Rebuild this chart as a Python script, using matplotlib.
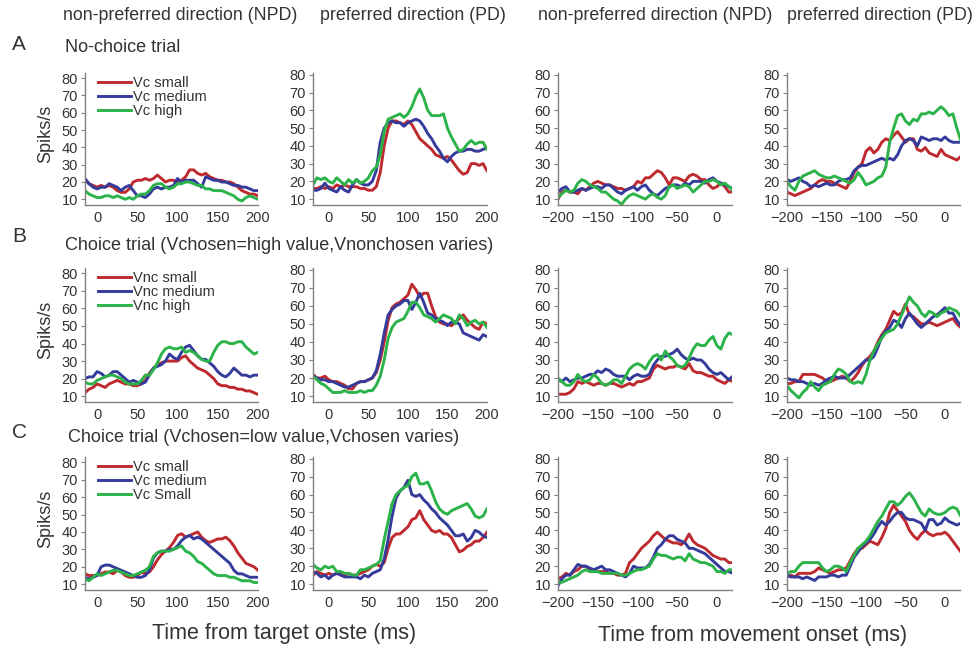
import numpy as np
import matplotlib
matplotlib.use("Agg")
import matplotlib.pyplot as plt

plt.rcParams["font.family"] = ["Liberation Sans", "DejaVu Sans"]

# time bins (ms): aligned to target onset / to movement onset
t_target = np.arange(-20, 201, 5)
t_move = np.arange(-200, 21, 5)

# ---- A: no-choice trial ----
a_npd_tgt_small = [21, 21, 19, 18, 17, 18, 17, 18, 17, 15, 14, 14, 16, 20, 21, 21, 22, 21, 22, 24, 22, 20, 21, 21, 20, 21, 23, 27, 27, 25, 24, 25, 23, 22, 21, 21, 20, 20, 19, 17, 15, 14, 13, 13, 12]
a_npd_tgt_medium = [22, 22, 19, 17, 16, 17, 17, 19, 18, 17, 15, 17, 18, 15, 12, 12, 11, 13, 16, 17, 16, 17, 17, 18, 22, 20, 21, 21, 21, 19, 17, 23, 22, 21, 21, 20, 20, 19, 18, 18, 17, 17, 16, 15, 15]
a_npd_tgt_high = [15, 15, 13, 12, 11, 11, 12, 12, 11, 12, 11, 10, 11, 10, 12, 13, 13, 15, 18, 19, 19, 17, 16, 17, 19, 19, 20, 20, 19, 18, 18, 16, 16, 15, 15, 15, 14, 13, 12, 10, 9, 11, 12, 11, 10]

a_pd_tgt_small = [16, 16, 17, 16, 17, 16, 18, 17, 18, 17, 17, 17, 16, 16, 15, 15, 17, 25, 40, 50, 54, 54, 53, 52, 54, 52, 48, 44, 42, 40, 38, 35, 34, 33, 34, 32, 29, 26, 24, 25, 30, 30, 29, 30, 26]
a_pd_tgt_medium = [15, 15, 16, 19, 16, 15, 14, 17, 15, 14, 18, 21, 19, 18, 18, 20, 26, 42, 50, 53, 54, 53, 53, 51, 53, 54, 55, 54, 51, 47, 44, 40, 37, 33, 31, 34, 36, 37, 37, 38, 38, 37, 37, 38, 39]
a_pd_tgt_high = [18, 22, 21, 22, 20, 19, 22, 20, 18, 21, 19, 21, 19, 20, 22, 26, 28, 35, 48, 55, 56, 57, 58, 56, 58, 62, 68, 72, 67, 60, 57, 57, 57, 58, 50, 45, 41, 37, 38, 41, 43, 41, 42, 42, 38]

a_npd_mov_small = [10, 14, 15, 14, 14, 13, 16, 15, 17, 19, 20, 19, 18, 18, 17, 16, 16, 15, 16, 17, 20, 19, 22, 22, 24, 26, 25, 22, 18, 22, 22, 21, 20, 23, 24, 23, 21, 21, 18, 16, 17, 19, 17, 14, 14]
a_npd_mov_medium = [14, 16, 17, 14, 14, 15, 16, 15, 16, 17, 17, 16, 18, 18, 16, 14, 13, 15, 16, 17, 15, 17, 18, 15, 13, 12, 14, 16, 17, 18, 18, 17, 19, 18, 20, 20, 20, 19, 21, 22, 20, 19, 18, 17, 16]
a_npd_mov_high = [11, 13, 15, 14, 15, 19, 21, 20, 18, 17, 16, 14, 14, 12, 10, 9, 7, 10, 12, 13, 12, 11, 10, 12, 13, 11, 10, 12, 17, 18, 16, 17, 18, 17, 14, 16, 18, 20, 20, 21, 20, 18, 19, 17, 15]

a_pd_mov_small = [14, 13, 12, 13, 14, 15, 16, 18, 20, 21, 20, 20, 19, 18, 17, 16, 20, 25, 28, 30, 37, 39, 36, 38, 42, 44, 43, 46, 48, 45, 42, 44, 44, 38, 37, 39, 36, 35, 34, 38, 35, 34, 33, 32, 34]
a_pd_mov_medium = [21, 20, 21, 22, 20, 19, 17, 18, 17, 18, 19, 18, 18, 20, 21, 21, 22, 26, 28, 29, 29, 30, 31, 32, 33, 32, 33, 32, 35, 40, 43, 44, 43, 40, 45, 44, 43, 44, 44, 43, 45, 43, 42, 42, 42]
a_pd_mov_high = [20, 17, 15, 20, 23, 24, 25, 26, 24, 23, 22, 22, 23, 22, 21, 20, 19, 21, 25, 22, 18, 19, 20, 22, 23, 28, 42, 50, 57, 58, 54, 52, 55, 54, 58, 58, 59, 58, 60, 62, 60, 57, 58, 50, 43]

# ---- B: choice trial, Vchosen = high value ----
b_npd_tgt_small = [12, 12, 14, 15, 17, 16, 15, 17, 18, 19, 18, 17, 17, 16, 16, 17, 19, 23, 26, 28, 29, 30, 30, 30, 30, 32, 33, 30, 28, 26, 25, 24, 22, 20, 17, 16, 16, 15, 15, 14, 14, 13, 13, 12, 11]
b_npd_tgt_medium = [20, 20, 21, 21, 24, 23, 21, 22, 24, 24, 22, 20, 18, 19, 18, 17, 18, 22, 26, 27, 28, 30, 34, 32, 31, 35, 38, 39, 36, 33, 31, 31, 29, 27, 24, 22, 21, 23, 26, 24, 22, 22, 21, 22, 22]
b_npd_tgt_high = [18, 18, 17, 17, 19, 20, 21, 22, 22, 21, 20, 18, 17, 17, 17, 19, 22, 22, 25, 29, 34, 37, 38, 37, 37, 38, 35, 36, 35, 33, 31, 30, 30, 35, 39, 41, 41, 40, 40, 41, 41, 38, 36, 34, 35]

b_pd_tgt_small = [22, 20, 20, 21, 19, 18, 18, 17, 16, 14, 14, 17, 18, 18, 19, 20, 23, 30, 40, 52, 59, 61, 62, 64, 66, 72, 69, 65, 67, 67, 60, 54, 51, 50, 50, 49, 51, 53, 55, 52, 50, 48, 47, 51, 50]
b_pd_tgt_medium = [21, 20, 19, 19, 18, 18, 17, 16, 15, 15, 16, 17, 18, 18, 19, 20, 24, 33, 45, 55, 58, 60, 61, 63, 63, 58, 62, 67, 62, 56, 55, 53, 52, 51, 49, 51, 51, 50, 45, 44, 43, 42, 41, 44, 43]
b_pd_tgt_high = [21, 19, 17, 16, 14, 12, 12, 12, 13, 12, 12, 12, 13, 12, 13, 13, 16, 21, 30, 42, 48, 51, 52, 53, 57, 62, 62, 59, 55, 54, 53, 51, 53, 55, 54, 53, 50, 55, 53, 49, 51, 52, 50, 51, 48]

b_npd_mov_small = [11, 11, 11, 12, 14, 18, 17, 18, 17, 16, 17, 17, 16, 17, 17, 16, 15, 16, 17, 16, 18, 18, 19, 20, 25, 27, 26, 25, 26, 26, 27, 26, 25, 28, 24, 23, 23, 22, 21, 21, 19, 18, 17, 19, 18]
b_npd_mov_medium = [19, 18, 20, 18, 19, 20, 20, 21, 22, 22, 24, 23, 25, 24, 22, 21, 21, 21, 19, 21, 22, 21, 21, 22, 27, 30, 32, 32, 33, 34, 36, 33, 31, 30, 31, 30, 30, 28, 25, 23, 22, 23, 21, 19, 21]
b_npd_mov_high = [20, 18, 16, 16, 18, 22, 19, 18, 19, 22, 20, 17, 16, 17, 19, 19, 17, 21, 25, 27, 28, 27, 25, 29, 32, 33, 30, 35, 32, 30, 27, 26, 27, 31, 36, 39, 38, 38, 41, 43, 38, 36, 42, 45, 44]

b_pd_mov_small = [17, 17, 18, 18, 22, 22, 22, 22, 21, 20, 18, 18, 19, 20, 21, 20, 18, 20, 23, 27, 30, 32, 35, 40, 44, 47, 52, 57, 55, 56, 61, 55, 54, 52, 50, 50, 51, 50, 49, 50, 51, 52, 53, 50, 48]
b_pd_mov_medium = [20, 19, 19, 18, 18, 17, 16, 17, 16, 17, 19, 20, 21, 20, 20, 20, 22, 24, 26, 28, 30, 30, 32, 37, 43, 46, 48, 52, 51, 48, 53, 56, 53, 50, 48, 50, 52, 54, 55, 57, 59, 56, 56, 52, 49]
b_pd_mov_high = [16, 13, 11, 9, 12, 14, 18, 15, 13, 16, 17, 18, 22, 25, 24, 22, 18, 17, 18, 17, 22, 30, 35, 39, 42, 45, 46, 47, 50, 55, 60, 65, 62, 60, 56, 54, 57, 56, 54, 56, 57, 59, 58, 57, 54]

# ---- C: choice trial, Vchosen = low value ----
c_npd_tgt_small = [16, 16, 15, 15, 15, 16, 17, 17, 16, 18, 17, 15, 14, 14, 15, 17, 16, 17, 20, 24, 27, 29, 31, 34, 38, 39, 37, 38, 39, 40, 37, 35, 34, 35, 36, 36, 37, 35, 32, 28, 25, 22, 21, 20, 18]
c_npd_tgt_medium = [14, 14, 13, 14, 15, 20, 21, 21, 20, 19, 18, 17, 16, 15, 14, 14, 15, 18, 25, 28, 29, 29, 30, 30, 32, 35, 37, 38, 36, 37, 36, 34, 32, 30, 28, 26, 24, 22, 18, 16, 16, 15, 14, 14, 14]
c_npd_tgt_high = [13, 13, 12, 14, 16, 15, 16, 17, 18, 18, 17, 16, 15, 15, 16, 17, 18, 20, 26, 28, 29, 29, 29, 30, 31, 32, 29, 28, 26, 23, 22, 20, 18, 16, 15, 15, 15, 14, 14, 13, 12, 12, 12, 11, 11]

c_pd_tgt_small = [15, 17, 16, 15, 16, 15, 16, 16, 15, 16, 15, 15, 16, 17, 18, 20, 21, 20, 22, 30, 36, 38, 38, 40, 42, 46, 47, 51, 46, 43, 40, 39, 40, 38, 38, 36, 32, 28, 29, 31, 32, 34, 34, 36, 39]
c_pd_tgt_medium = [17, 16, 14, 15, 13, 15, 16, 15, 14, 14, 14, 14, 13, 15, 14, 16, 17, 18, 24, 35, 48, 58, 62, 64, 68, 60, 59, 60, 57, 55, 52, 50, 47, 45, 43, 40, 37, 37, 38, 34, 36, 40, 39, 37, 36]
c_pd_tgt_high = [21, 19, 18, 20, 19, 20, 17, 17, 16, 16, 15, 15, 18, 18, 19, 20, 21, 23, 35, 45, 55, 60, 62, 64, 65, 70, 72, 66, 66, 67, 62, 56, 52, 50, 49, 51, 52, 53, 54, 55, 52, 48, 47, 48, 52]

c_npd_mov_small = [13, 14, 16, 15, 17, 18, 20, 20, 18, 17, 17, 17, 17, 16, 16, 15, 15, 16, 22, 24, 27, 30, 32, 34, 37, 39, 37, 35, 34, 33, 33, 32, 34, 38, 34, 32, 31, 30, 28, 26, 25, 24, 24, 22, 22]
c_npd_mov_medium = [9, 13, 15, 15, 18, 21, 20, 20, 19, 18, 19, 20, 18, 18, 17, 16, 15, 14, 16, 20, 19, 19, 19, 21, 25, 30, 32, 35, 37, 37, 35, 34, 33, 30, 30, 29, 28, 27, 25, 23, 21, 19, 17, 17, 16]
c_npd_mov_high = [11, 11, 12, 13, 14, 15, 17, 18, 17, 17, 17, 16, 16, 16, 16, 16, 15, 15, 16, 17, 18, 18, 19, 20, 24, 27, 26, 26, 25, 24, 25, 25, 23, 27, 24, 23, 22, 22, 21, 20, 17, 17, 16, 18, 18]

c_pd_mov_small = [14, 15, 14, 16, 16, 16, 16, 17, 19, 18, 17, 16, 17, 18, 18, 19, 23, 27, 30, 30, 32, 34, 33, 32, 36, 41, 50, 54, 51, 48, 45, 40, 37, 35, 38, 40, 38, 37, 38, 38, 39, 37, 34, 31, 28]
c_pd_mov_medium = [15, 14, 14, 14, 13, 14, 13, 12, 14, 14, 14, 15, 15, 14, 15, 15, 20, 25, 28, 31, 33, 35, 38, 42, 45, 43, 45, 48, 50, 50, 47, 46, 46, 45, 44, 40, 46, 46, 43, 44, 47, 45, 44, 43, 44]
c_pd_mov_high = [16, 17, 17, 20, 22, 22, 22, 22, 22, 19, 17, 18, 20, 20, 19, 17, 22, 26, 30, 32, 34, 37, 41, 45, 48, 52, 56, 56, 54, 56, 59, 61, 58, 54, 50, 48, 52, 50, 49, 49, 50, 52, 53, 52, 48]

col_titles = ["non-preferred direction (NPD)", "preferred direction (PD)",
              "non-preferred direction (NPD)", "preferred direction (PD)"]
row_letters = ["A", "B", "C"]
row_titles = ["No-choice trial",
              "Choice trial (Vchosen=high value,Vnonchosen varies)",
              "Choice trial (Vchosen=low value,Vchosen varies)"]
legend_labels = [["Vc small", "Vc medium", "Vc high"],
                 ["Vnc small", "Vnc medium", "Vnc high"],
                 ["Vc small", "Vc medium", "Vc Small"]]

panels = [
    [(a_npd_tgt_small, a_npd_tgt_medium, a_npd_tgt_high),
     (a_pd_tgt_small, a_pd_tgt_medium, a_pd_tgt_high),
     (a_npd_mov_small, a_npd_mov_medium, a_npd_mov_high),
     (a_pd_mov_small, a_pd_mov_medium, a_pd_mov_high)],
    [(b_npd_tgt_small, b_npd_tgt_medium, b_npd_tgt_high),
     (b_pd_tgt_small, b_pd_tgt_medium, b_pd_tgt_high),
     (b_npd_mov_small, b_npd_mov_medium, b_npd_mov_high),
     (b_pd_mov_small, b_pd_mov_medium, b_pd_mov_high)],
    [(c_npd_tgt_small, c_npd_tgt_medium, c_npd_tgt_high),
     (c_pd_tgt_small, c_pd_tgt_medium, c_pd_tgt_high),
     (c_npd_mov_small, c_npd_mov_medium, c_npd_mov_high),
     (c_pd_mov_small, c_pd_mov_medium, c_pd_mov_high)],
]

colors = ["#be2a2e", "#343b9b", "#2bb34a"]
text_col = "#333333"
W, H = 980, 654

# panel boxes in pixels
col_px = [(85, 258), (313, 487), (558, 732), (787, 960)]
row_px = [(73, 205), (268, 402), (457, 590)]
xlims = [(-15, 200), (-20, 200), (-200, 19), (-200, 19)]

fig = plt.figure(figsize=(W / 100, H / 100), dpi=100)

for r in range(3):
    top, bot = row_px[r]
    for c in range(4):
        left, right = col_px[c]
        ax = fig.add_axes([left / W, 1 - bot / H, (right - left) / W, (bot - top) / H])
        t = t_target if c < 2 else t_move
        for series, col, lab in zip(panels[r][c], colors, legend_labels[r]):
            ax.plot(t, series, color=col, lw=2.1, label=lab)
        ax.set_xlim(*xlims[c])
        ax.set_ylim(6.7, 83 if c == 0 else 81)
        ax.set_yticks(range(10, 81, 10))
        if c < 2:
            ax.set_xticks([0, 50, 100, 150, 200])
        else:
            ax.set_xticks([-200, -150, -100, -50, 0])
            ax.set_xticklabels(["\u2212200", "\u2212150", "\u2212100", "\u221250", "0"])
        for s in ["top", "right"]:
            ax.spines[s].set_visible(False)
        for s in ["left", "bottom"]:
            ax.spines[s].set_color("#808080")
            ax.spines[s].set_linewidth(1.0)
        ax.tick_params(axis="y", length=3, width=0.8, color="#808080", labelsize=10.5,
                       labelcolor=text_col, pad=2)
        ax.tick_params(axis="x", length=0, labelsize=10.5, labelcolor=text_col, pad=4)
        if c == 0:
            leg = ax.legend(loc="upper left", bbox_to_anchor=(0.04, 1.02), frameon=False,
                            fontsize=10.5, handlelength=2.3, handletextpad=0.1,
                            labelspacing=0.0, borderaxespad=0)
            for txt in leg.get_texts():
                txt.set_color(text_col)
            fig.text(46 / W, 1 - ((top + bot) / 2 - 5) / H, "Spiks/s", rotation=90,
                     ha="center", va="center", fontsize=13, color=text_col)

# column headers
for x0, txt in zip([63, 320, 538, 787], col_titles):
    fig.text(x0 / W, 1 - 15 / H, txt, ha="left", va="center", fontsize=12.8, color=text_col)

# row letters and titles
for (ly, ty, tx), letter, txt in zip([(45, 47, 65), (236, 245, 65), (432, 437, 68)],
                                     row_letters, row_titles):
    fig.text(12 / W, 1 - ly / H, letter, ha="left", va="center", fontsize=15, color=text_col)
    fig.text(tx / W, 1 - ty / H, txt, ha="left", va="center", fontsize=13, color=text_col)

fig.text(284 / W, 1 - 634 / H, "Time from target onste (ms)", ha="center", va="center",
         fontsize=15.5, color=text_col)
fig.text(753 / W, 1 - 635 / H, "Time from movement onset (ms)", ha="center", va="center",
         fontsize=15.5, color=text_col)

fig.savefig("out.png", dpi=100)
